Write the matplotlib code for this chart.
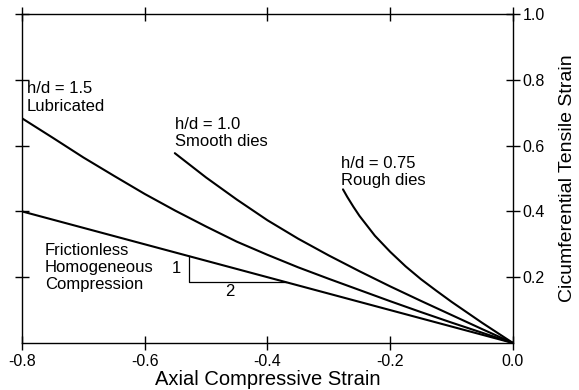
import numpy as np
import matplotlib.pyplot as plt

# values
lub_x = [-0.80, -0.75, -0.70, -0.65, -0.60, -0.55, -0.50, -0.45, -0.40, -0.35, -0.30, -0.25, -0.20, -0.15, -0.10, -0.05, 0.0]
lub_y = [0.683, 0.624, 0.564, 0.508, 0.453, 0.402, 0.354, 0.308, 0.268, 0.230, 0.195, 0.161, 0.127, 0.094, 0.062, 0.031, 0.0]

smooth_x = [-0.551, -0.50, -0.45, -0.40, -0.35, -0.30, -0.25, -0.20, -0.15, -0.10, -0.05, 0.0]
smooth_y = [0.577, 0.503, 0.436, 0.373, 0.317, 0.266, 0.218, 0.172, 0.128, 0.085, 0.042, 0.0]

rough_x = [-0.277, -0.27, -0.26, -0.25, -0.225, -0.20, -0.175, -0.15, -0.125, -0.10, -0.05, 0.0]
rough_y = [0.467, 0.444, 0.414, 0.386, 0.326, 0.277, 0.233, 0.194, 0.159, 0.125, 0.061, 0.0]

fric_x = [-0.80, 0.0]
fric_y = [0.40, 0.0]

# slope triangle
tri_x = [-0.528, -0.528, -0.370]
tri_y = [0.264, 0.185, 0.185]

xticks = [-0.8, -0.6, -0.4, -0.2, 0.0]
yticks = [0.2, 0.4, 0.6, 0.8, 1.0]

plt.rcParams['font.family'] = ['Liberation Sans', 'DejaVu Sans']

fig = plt.figure(figsize=(5.79, 3.90), dpi=100)
ax = fig.add_axes([0.038, 0.1205, 0.848, 0.8436])

for xs, ys in [(lub_x, lub_y), (smooth_x, smooth_y), (rough_x, rough_y), (fric_x, fric_y)]:
    ax.plot(xs, ys, color='black', lw=1.5, solid_capstyle='round')
ax.plot(tri_x, tri_y, color='black', lw=0.9)

ax.set_xlim(-0.8, 0.0)
ax.set_ylim(0.0, 1.0)

ax.set_xticks(xticks)
ax.set_xticklabels(['%.1f' % v for v in xticks])
ax.set_yticks(yticks)
ax.set_yticklabels(['%.1f' % v for v in yticks])
ax.tick_params(axis='both', direction='inout', length=10, width=1.0,
               labelsize=11.5, top=True, bottom=True, left=True, right=True,
               labelleft=False, labelright=True, pad=2)
ax.tick_params(axis='x', pad=3)
for s in ax.spines.values():
    s.set_linewidth(1.0)

fig.text(0.462, 0.012, 'Axial Compressive Strain', fontsize=14.5, ha='center', va='baseline')
ax.yaxis.set_label_position('right')
ax.set_ylabel('Cicumferential Tensile Strain', fontsize=14, labelpad=10)

fs = 12
ls = 1.2
ax.text(-0.792, 0.795, 'h/d = 1.5\nLubricated', fontsize=fs, va='top', ha='left', linespacing=ls)
ax.text(-0.551, 0.687, 'h/d = 1.0\nSmooth dies', fontsize=fs, va='top', ha='left', linespacing=ls)
ax.text(-0.280, 0.569, 'h/d = 0.75\nRough dies', fontsize=fs, va='top', ha='left', linespacing=ls)
ax.text(-0.763, 0.305, 'Frictionless\nHomogeneous\nCompression', fontsize=fs, va='top', ha='left', linespacing=ls)
ax.text(-0.541, 0.227, '1', fontsize=fs, ha='right', va='center')
ax.text(-0.461, 0.178, '2', fontsize=fs, ha='center', va='top')

fig.savefig('out.png', dpi=100)
